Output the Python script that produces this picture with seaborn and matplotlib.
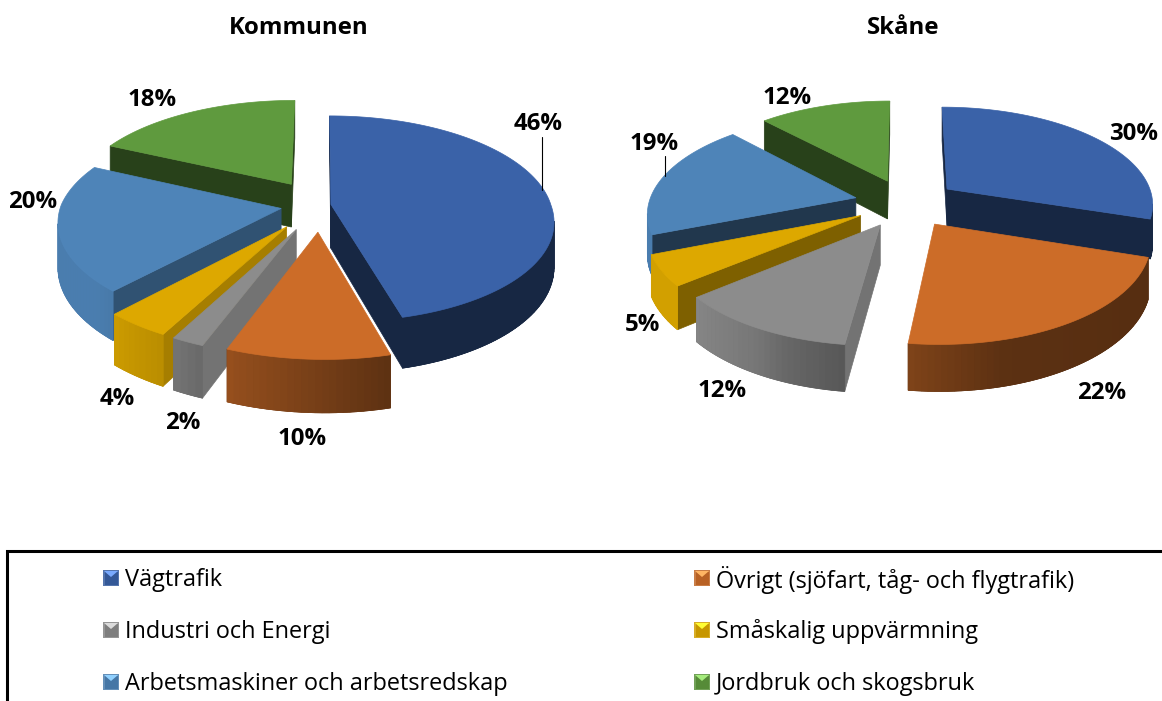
import numpy as np
import matplotlib
matplotlib.use('Agg')
import matplotlib.pyplot as plt
import seaborn as sns

# data
categories = ['Vägtrafik', 'Övrigt (sjöfart, tåg- och flygtrafik)', 'Industri och Energi',
              'Småskalig uppvärmning', 'Arbetsmaskiner och arbetsredskap', 'Jordbruk och skogsbruk']
kommunen = [46, 10, 2, 4, 20, 18]
skane = [30, 22, 12, 5, 19, 12]
kommunen_explode = [0.05, 0.26, 0.26, 0.26, 0.18, 0.25]
skane_explode = [0.25, 0.25, 0.25, 0.25, 0.25, 0.25]

# label layout, px
kommunen_labels = [(538, 124), (302, 439), (183, 423), (117, 399), (33, 202), (152, 100)]
skane_labels = [(1134, 134), (1102, 393), (722, 391), (642, 325), (654, 144), (787, 98)]

sns.set_theme(style='white')
plt.rcParams['font.family'] = ['Open Sans', 'DejaVu Sans']
palette = sns.color_palette(['#3A62A8', '#CC6C28', '#8C8C8C', '#DDA800', '#4E84B8', '#5F9A3E'])
wall_caps = [0.40, 1, 1, 1, 1, 1]
TILT = 0.14


def project(u, v, box, z=0):
    # simple perspective, far side is smaller; shear leans the near side right
    cx, cy, rx, ry, shear = box
    v = np.asarray(v)
    p = 1 / (1 + TILT * v)
    return cx + (rx * np.asarray(u) - shear * np.minimum(v, 0)) * p, cy - ry * v * p + z * p


def wall_shade(nx, cap=1):
    return np.minimum(cap, np.interp(nx, [-0.76, -0.5, -0.34, -0.12, 0.1, 0.26, 1],
                                     [0.95, 0.85, 0.72, 0.62, 0.52, 0.45, 0.42]))


def quad(ax, uv_a, uv_b, box, depth, color):
    xa, ya = project(*uv_a, box)
    xb, yb = project(*uv_b, box)
    xa2, ya2 = project(*uv_a, box, z=depth)
    xb2, yb2 = project(*uv_b, box, z=depth)
    ax.fill([xa, xb, xb2, xa2], [ya, yb, yb2, ya2], color=color, lw=0.5)


def draw_pie(ax, values, explode, box, depth, cut_shades):
    edges = np.cumsum([0] + values) / sum(values) * 2 * np.pi
    order = []
    for i in range(len(values)):
        mid = (edges[i] + edges[i + 1]) / 2
        order.append((np.cos(mid) * (explode[i] + 0.5), i))
    for _, i in sorted(order, reverse=True):
        t0, t1 = edges[i], edges[i + 1]
        mid = (t0 + t1) / 2
        ou, ov = explode[i] * np.sin(mid), explode[i] * np.cos(mid)
        t = np.linspace(t0, t1, max(3, int((t1 - t0) / np.radians(1.5)) + 1))
        us, vs = ou + np.sin(t), ov + np.cos(t)
        col = np.array(palette[i])
        cut = col * cut_shades[i]
        # clockwise round the slice, an edge going left on screen faces the viewer
        sx, sy = project(us, vs, box)
        sx2, sy2 = project(us, vs, box, z=depth)
        ax0, _ = project(ou, ov, box)
        if sx[-1] > ax0:
            quad(ax, (us[-1], vs[-1]), (ou, ov), box, depth, cut)
        if ax0 > sx[0]:
            quad(ax, (ou, ov), (us[0], vs[0]), box, depth, cut)
        front = np.where(sx[1:] < sx[:-1])[0]
        if len(front):
            # solid backing first so the strip seams do not show
            a, b = front[0], front[-1] + 2
            nx = np.sin(t[a:b])
            ax.fill(np.r_[sx[a:b], sx2[a:b][::-1]], np.r_[sy[a:b], sy2[a:b][::-1]],
                    color=col * wall_shade(nx, wall_caps[i]).mean(), lw=0.5)
        for j in front:
            nx = np.sin((t[j] + t[j + 1]) / 2)
            quad(ax, (us[j], vs[j]), (us[j + 1], vs[j + 1]), box, depth, col * wall_shade(nx, wall_caps[i]))
        top_x, top_y = project(np.r_[ou, us], np.r_[ov, vs], box)
        ax.fill(top_x, top_y, color=col, lw=0.5)


def legend_key(ax, x, y, color):
    s = 8
    color = np.array(color)
    light = np.clip(color * 1.2 + 0.2, 0, 1)
    ax.fill([x - s, x + s, x + s, x - s], [y - s, y - s, y + s, y + s], color=color * 0.8 + 0.15, lw=0)
    ax.fill([x - s + 1.5, x + s - 1.5, x + s - 1.5, x - s + 1.5],
            [y - s + 1.5, y - s + 1.5, y + s - 1.5, y + s - 1.5], color=color * 0.9, lw=0)
    ax.fill([x - s + 1, x + s - 1, x], [y - s + 1, y - s + 1, y - 1], color=light, lw=0)


fig = plt.figure(figsize=(11.62, 7.01), dpi=100)
ax = fig.add_axes([0, 0, 1, 1])
ax.set_xlim(0, 1162)
ax.set_ylim(701, 0)
ax.axis('off')

draw_pie(ax, kommunen, kommunen_explode, (320, 205, 220, 101, 6), 44, [0.40, 0.6, 0.82, 0.75, 0.62, 0.42])
draw_pie(ax, skane, skane_explode, (906, 203, 207, 97, 0), 39, [0.40, 0.6, 0.82, 0.57, 0.42, 0.42])

for vals, pos in [(kommunen, kommunen_labels), (skane, skane_labels)]:
    for v, (x, y) in zip(vals, pos):
        ax.text(x, y, f'{v}%', ha='center', va='center', fontsize=17.3, fontweight='bold', color='black')

# leader lines
ax.plot([542, 542], [137, 190], color='black', lw=0.8)
ax.plot([665, 665], [156, 176], color='black', lw=0.8)

ax.text(299, 28, 'Kommunen', ha='center', va='center', fontsize=17.3, fontweight='bold', color='black')
ax.text(903, 28, 'Skåne', ha='center', va='center', fontsize=17.3, fontweight='bold', color='black')

# legend box, open on right and bottom
ax.plot([7, 7, 1162], [701, 551, 551], color='black', lw=2.2, solid_joinstyle='miter')
for i, name in enumerate(categories):
    row, col = i // 2, i % 2
    x = 111 + col * 591
    y = 578 + row * 52
    legend_key(ax, x, y, palette[i])
    ax.text(x + 14, y + 2, name, ha='left', va='center', fontsize=16.9, color='black')

plt.savefig('out.png', dpi=100)
